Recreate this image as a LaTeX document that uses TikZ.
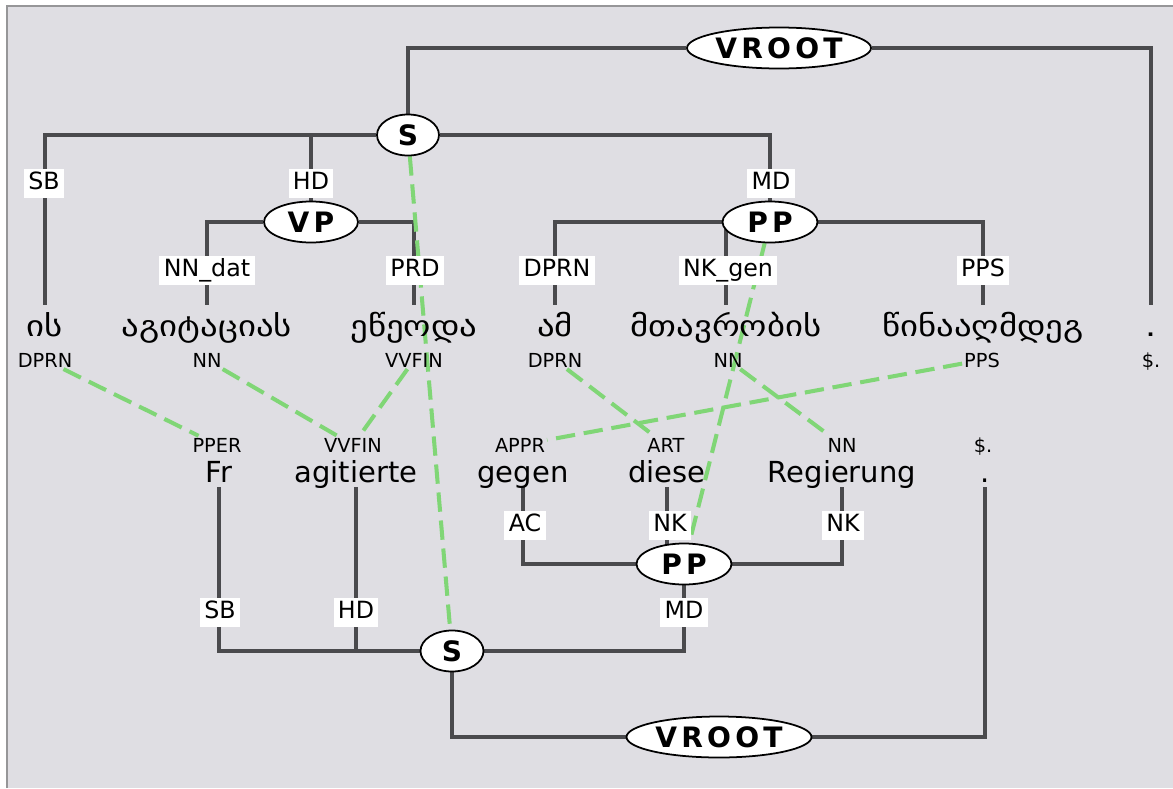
\documentclass[tikz,border=0pt]{standalone}
\usepackage{fontspec}
\setmainfont{DejaVu Sans}
\newfontfamily\catfont{DejaVu Sans}[LetterSpace=15]
\newfontfamily\kafont{DejaVu Sans}[FakeStretch=1.2]
\usetikzlibrary{shapes.geometric,backgrounds}
\definecolor{paneGray}{RGB}{223,222,227}
\definecolor{frameGray}{RGB}{150,150,152}
\definecolor{edgeGray}{RGB}{74,74,77}
\definecolor{alignGreen}{RGB}{128,214,118}

\begin{document}
\begin{tikzpicture}[
  x=0.02cm, y=-0.02cm,
  cat/.style={ellipse, draw=black, line width=1pt, fill=white, inner sep=0pt,
    minimum height=0.82cm, font=\catfont\bfseries\fontsize{16}{16}\selectfont},
  wordu/.style={anchor=base, inner sep=0pt, text height=17.6pt, text depth=0pt,
    font=\kafont\fontsize{16.5}{17}\selectfont},
  wordl/.style={anchor=base, inner sep=0pt, text depth=2.8pt,
    font=\fontsize{16.5}{17}\selectfont},
  tag/.style={anchor=base, inner sep=1pt, font=\fontsize{11}{12}\selectfont},
  lab/.style={fill=white, inner xsep=2.5pt, inner ysep=0pt, minimum height=0.58cm,
    text height=10pt, text depth=2.5pt, font=\fontsize{13.5}{14}\selectfont},
  edge/.style={draw=edgeGray, line width=2.3pt},
  alignline/.style={draw=alignGreen, line width=2.3pt, dash pattern=on 11pt off 5pt}
]
  \useasboundingbox (0,0) rectangle (1173,788);

  \begin{scope}[on background layer]
    \fill[white] (0,0) rectangle (1173,788);
    \fill[paneGray] (7,6) rectangle (1173,788);
    \draw[frameGray, line width=1pt] (7,788) -- (7,6) -- (1173,6);
  \end{scope}

  % upper tree
  \node[cat, minimum width=3.68cm] (vrootTop) at (779,48) {VROOT};
  \node[cat, minimum width=1.24cm] (sTop) at (408,135) {S};
  \node[cat, minimum width=1.88cm] (vpTop) at (311,222) {VP};
  \node[cat, minimum width=1.9cm] (ppTop) at (770,222) {PP};

  \node[wordu] (wIs) at (45,336) {ის};
  \node[wordu] (wAgitaci) at (207,336) {აგიტაციას};
  \node[wordu] (wEtseoda) at (414,336) {ეწეოდა};
  \node[wordu] (wAm) at (555,336) {ამ};
  \node[wordu] (wMtavrob) at (726,336) {მთავრობის};
  \node[wordu] (wTsinaagh) at (983,336) {წინააღმდეგ};
  \node[wordu] (wDotTop) at (1151,336) {.};

  \node[tag] (tIs) at (45,367) {DPRN};
  \node[tag] (tNNa) at (207,367) {NN};
  \node[tag] (tVVFINa) at (414,367) {VVFIN};
  \node[tag] (tDPRNb) at (555,367) {DPRN};
  \node[tag] (tNNb) at (728,367) {NN};
  \node[tag] (tPPS) at (982,367) {PPS};
  \node[tag] (tDollarTop) at (1151,367) {\$.};

  % lower tree
  \node[tag] (tPPER) at (217,452) {PPER};
  \node[tag] (tVVFINb) at (353,452) {VVFIN};
  \node[tag] (tAPPR) at (520,452) {APPR};
  \node[tag] (tART) at (666,452) {ART};
  \node[tag] (tNNc) at (842,452) {NN};
  \node[tag] (tDollarBot) at (983,452) {\$.};

  \node[wordl] (wFr) at (219,482) {Fr};
  \node[wordl] (wAgitiert) at (356,482) {agitierte};
  \node[wordl] (wGegen) at (523,482) {gegen};
  \node[wordl] (wDiese) at (667,482) {diese};
  \node[wordl] (wRegierung) at (842,482) {Regierung};
  \node[wordl] (wDotBot) at (985,482) {.};

  \node[cat, minimum width=1.9cm] (ppBot) at (684,564) {PP};
  \node[cat, minimum width=1.26cm] (sBot) at (452,651) {S};
  \node[cat, minimum width=3.7cm] (vrootBot) at (719,737) {VROOT};

  % edge labels
  \node[lab] (lSBa) at (44,183) {SB};
  \node[lab] (lHDa) at (311,183) {HD};
  \node[lab] (lMDa) at (771,183) {MD};
  \node[lab] (lNNdat) at (207,270) {NN\_dat};
  \node[lab] (lPRD) at (415,270) {PRD};
  \node[lab] (lDPRN) at (557,270) {DPRN};
  \node[lab] (lNKgen) at (728,270) {NK\_gen};
  \node[lab] (lPPS) at (983,270) {PPS};
  \node[lab] (lAC) at (525,525) {AC};
  \node[lab] (lNKa) at (670,525) {NK};
  \node[lab] (lNKb) at (843,525) {NK};
  \node[lab] (lSBb) at (220,612) {SB};
  \node[lab] (lHDb) at (356,612) {HD};
  \node[lab] (lMDb) at (684,612) {MD};

  \begin{scope}[on background layer]
    \draw[edge] (vrootTop) -| (sTop);
    \draw[edge] (vrootTop) -| (wDotTop.north);
    \draw[edge] (sTop) -| (wIs.north);
    \draw[edge] (sTop) -| (vpTop);
    \draw[edge] (sTop) -| (ppTop);
    \foreach \w in {wAgitaci,wEtseoda}
      \draw[edge] (vpTop) -| (\w.north);
    \foreach \w in {wAm,wMtavrob,wTsinaagh}
      \draw[edge] (ppTop) -| (\w.north);

    \foreach \w in {wFr,wAgitiert}
      \draw[edge] (sBot) -| (\w.south);
    \draw[edge] (sBot) -| (ppBot);
    \draw[edge] (sBot) |- (vrootBot);
    \draw[edge] (vrootBot) -| (wDotBot.south);
    \foreach \w in {wGegen,wRegierung}
      \draw[edge] (ppBot) -| (\w.south);
    \draw[edge] (wDiese.south) -- (wDiese.south |- ppBot.center);

    % alignment links
    \foreach \a/\b in {tIs/tPPER, tNNa/tVVFINb, tVVFINa/tVVFINb, sTop/sBot,
                       tDPRNb/tART, tNNb/tNNc, ppTop/ppBot, tPPS/tAPPR}
      \draw[alignline] (\a) -- (\b);
  \end{scope}

\end{tikzpicture}
\end{document}
